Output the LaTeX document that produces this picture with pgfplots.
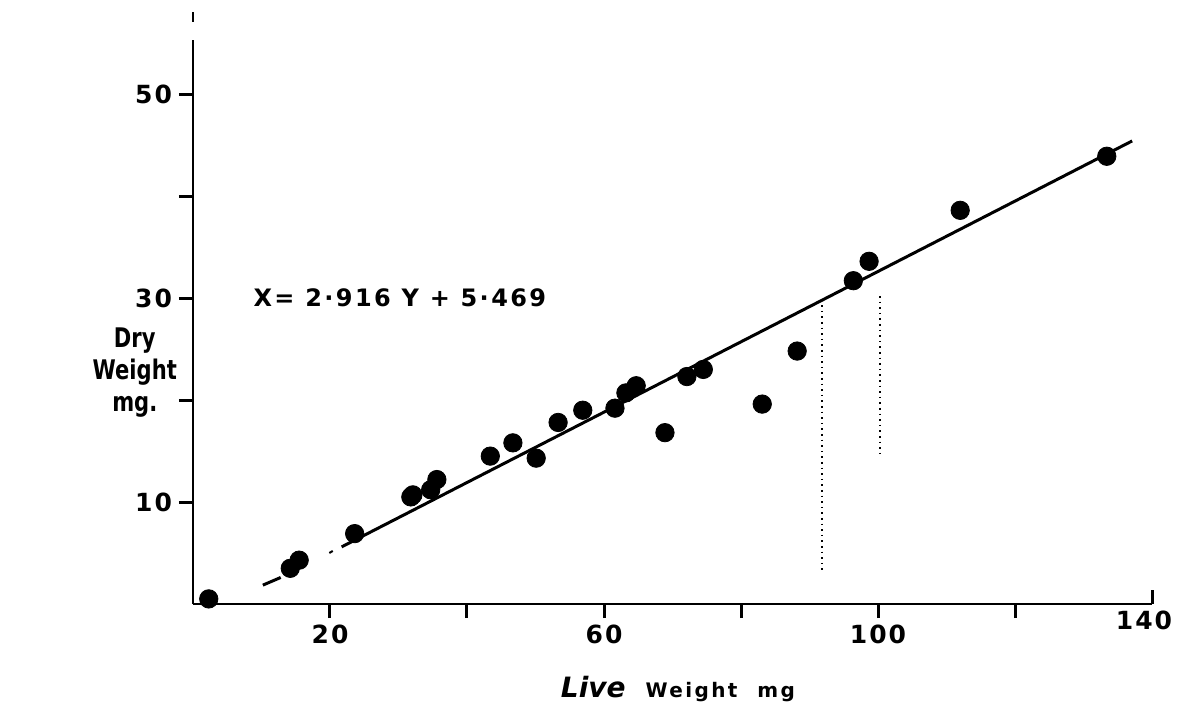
\documentclass[border=0pt]{standalone}
\usepackage{pgfplots}
\pgfplotsset{compat=1.18}
\usepackage{fontspec}
\setmainfont{DejaVu Sans}
\begin{document}
\begin{tikzpicture}
\useasboundingbox (-96.5pt,-59.5pt) rectangle (493pt,302pt);
\begin{axis}[
  at={(0,0)}, anchor=south west,
  scale only axis, width=479.5pt, height=282pt,
  xmin=0, xmax=140, ymin=0, ymax=55.3,
  axis x line=bottom, axis y line=left,
  axis line style={-, line width=1.3pt},
  tick align=outside,
  xtick={20,40,60,80,100,120}, xticklabels={20,,60,,100,},
  extra x ticks={140}, extra x tick labels={140},
  extra x tick style={tick align=inside, xticklabel style={xshift=-4pt}},
  ytick={10,20,30,40,50}, yticklabels={10,,30,,50},
  major tick length=7pt,
  tick style={line width=1.5pt, black},
  /pgf/number format/assume math mode=true,
  ticklabel style={font=\bfseries\fontsize{12.5}{13}\selectfont\addfontfeature{LetterSpace=8}},
  clip=false,
]
\addplot[only marks, mark=*, mark size=4.6pt, black] coordinates {
(2.3,0.5) (14.2,3.5) (15.5,4.3) (23.6,6.9) (31.8,10.5) (32.1,10.7)
(34.7,11.2) (35.6,12.2) (43.4,14.5) (46.7,15.8) (50.1,14.3) (53.3,17.8)
(56.9,19.0) (61.6,19.2) (63.2,20.7) (64.7,21.4) (68.9,16.8) (72.1,22.3)
(74.5,23.0) (83.1,19.6) (88.2,24.8) (96.4,31.7) (98.7,33.6) (112.0,38.6)
(133.4,43.9)
};
\addplot[black, line width=1.5pt] coordinates {(21.7,5.6) (137.1,45.4)};
\addplot[black, line width=1.5pt] coordinates {(10.2,1.85) (12.8,2.6)};
\addplot[black, line width=1.5pt] coordinates {(13.6,2.9) (16.3,3.8)};
\addplot[black, line width=1pt] coordinates {(19.9,5.0) (20.4,5.2)};
\addplot[black, dotted, line width=0.8pt] coordinates {(91.8,29.3) (91.8,3.0)};
\addplot[black, dotted, line width=0.8pt] coordinates {(100.3,30.2) (100.3,14.6)};
\draw[line width=1.3pt] (axis cs:0,57.1) -- (axis cs:0,58.0);
\node[font=\bfseries\fontsize{12}{12}\selectfont\addfontfeature{LetterSpace=10}] at (axis cs:30.2,30) {X= 2·916 Y + 5·469};
\node[font=\bfseries\fontsize{13.5}{16}\selectfont\addfontfeature{FakeStretch=0.78}, align=center] at (axis cs:-8.5,22.7) {Dry\\Weight\\mg.};
\node at (axis cs:70.8,-8.3) {{\bfseries\itshape\fontsize{14}{14}\selectfont Live}\quad{\bfseries\fontsize{10}{10}\selectfont\addfontfeature{LetterSpace=12}Weight\quad mg}};
\end{axis}
\end{tikzpicture}
\end{document}
